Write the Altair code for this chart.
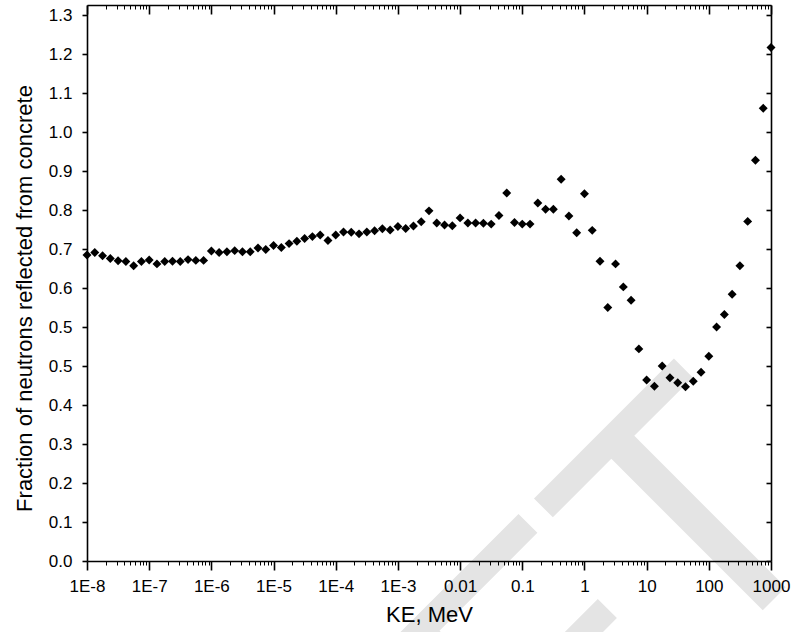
import json
import altair as alt
import pandas as pd

# Neutron kinetic energy grid (MeV), 8 points per decade from 1E-8 to 1000 MeV
ke_mev = [
    1.0000e-8, 1.3335e-8, 1.7783e-8, 2.3714e-8, 3.1623e-8, 4.2170e-8, 5.6234e-8, 7.4989e-8,
    1.0000e-7, 1.3335e-7, 1.7783e-7, 2.3714e-7, 3.1623e-7, 4.2170e-7, 5.6234e-7, 7.4989e-7,
    1.0000e-6, 1.3335e-6, 1.7783e-6, 2.3714e-6, 3.1623e-6, 4.2170e-6, 5.6234e-6, 7.4989e-6,
    1.0000e-5, 1.3335e-5, 1.7783e-5, 2.3714e-5, 3.1623e-5, 4.2170e-5, 5.6234e-5, 7.4989e-5,
    1.0000e-4, 1.3335e-4, 1.7783e-4, 2.3714e-4, 3.1623e-4, 4.2170e-4, 5.6234e-4, 7.4989e-4,
    1.0000e-3, 1.3335e-3, 1.7783e-3, 2.3714e-3, 3.1623e-3, 4.2170e-3, 5.6234e-3, 7.4989e-3,
    1.0000e-2, 1.3335e-2, 1.7783e-2, 2.3714e-2, 3.1623e-2, 4.2170e-2, 5.6234e-2, 7.4989e-2,
    1.0000e-1, 1.3335e-1, 1.7783e-1, 2.3714e-1, 3.1623e-1, 4.2170e-1, 5.6234e-1, 7.4989e-1,
    1.0000e0, 1.3335e0, 1.7783e0, 2.3714e0, 3.1623e0, 4.2170e0, 5.6234e0, 7.4989e0,
    1.0000e1, 1.3335e1, 1.7783e1, 2.3714e1, 3.1623e1, 4.2170e1, 5.6234e1, 7.4989e1,
    1.0000e2, 1.3335e2, 1.7783e2, 2.3714e2, 3.1623e2, 4.2170e2, 5.6234e2, 7.4989e2,
    1.0000e3,
]

# Reflected fraction, in units of the y-axis tick grid (one tick = 0.1)
reflected = [
    0.785, 0.791, 0.783, 0.776, 0.770, 0.768, 0.757, 0.768,
    0.772, 0.762, 0.768, 0.769, 0.768, 0.773, 0.771, 0.771,
    0.795, 0.791, 0.793, 0.796, 0.793, 0.793, 0.803, 0.799,
    0.809, 0.804, 0.814, 0.820, 0.827, 0.832, 0.836, 0.822,
    0.836, 0.844, 0.843, 0.839, 0.844, 0.847, 0.852, 0.849,
    0.858, 0.853, 0.859, 0.870, 0.898, 0.867, 0.862, 0.860,
    0.880, 0.867, 0.867, 0.866, 0.864, 0.886, 0.944, 0.868,
    0.864, 0.864, 0.918, 0.902, 0.902, 0.979, 0.885, 0.842,
    0.942, 0.848, 0.769, 0.650, 0.762, 0.703, 0.669, 0.544,
    0.464, 0.448, 0.500, 0.470, 0.457, 0.447, 0.461, 0.484,
    0.525, 0.600, 0.632, 0.684, 0.757, 0.871, 1.028, 1.161,
    1.317,
]

# Axis tick values and their printed labels
x_major = [1e-8, 1e-7, 1e-6, 1e-5, 1e-4, 1e-3, 1e-2, 1e-1, 1, 10, 100, 1000]
x_labels = ["1E-8", "1E-7", "1E-6", "1E-5", "1E-4", "1E-3", "0.01", "0.1", "1", "10", "100", "1000"]
x_minor = [m * d for d in x_major[:-1] for m in range(2, 10)]
y_ticks = [round(0.1 * k, 1) for k in range(15)]
y_labels = ["0.0", "0.1", "0.2", "0.3", "0.4", "0.5", "0.5", "0.6",
            "0.7", "0.8", "0.9", "1.0", "1.1", "1.2", "1.3"]

W, H = 684, 556
FONT = "Liberation Sans"

df = pd.DataFrame({"ke": ke_mev, "frac": reflected})

xscale = alt.Scale(type="log", domain=[1e-8, 1000], nice=False)
yscale = alt.Scale(domain=[0, 1.426], nice=False, zero=False)

x_label_expr = f"{json.dumps(x_labels)}[round(log(datum.value)/LN10) + 8]"
y_label_expr = f"{json.dumps(y_labels)}[round(datum.value*10)]"

common = dict(grid=False, domainColor="black", tickColor="black", zindex=1)

bottom_major = alt.Axis(orient="bottom", values=x_major, labelExpr=x_label_expr,
                        tickSize=9, tickWidth=1.6, domainWidth=1.6, labelPadding=8,
                        labelFont=FONT, labelFontSize=17, labelColor="black",
                        title="KE, MeV", titleFont=FONT, titleFontSize=22,
                        titleFontWeight="normal", titleColor="black", titlePadding=10,
                        labelFlush=False, labelOverlap=False, **common)
bottom_minor = alt.Axis(orient="bottom", values=x_minor, labels=False, domain=False,
                        tickSize=4, tickWidth=1, title=None, **common)
top_major = alt.Axis(orient="bottom", offset=-H, values=x_major, labels=False,
                     tickSize=9, tickWidth=1.6, domainWidth=1.6, title=None, **common)
top_minor = alt.Axis(orient="bottom", offset=-H, values=x_minor, labels=False,
                     domain=False, tickSize=4, tickWidth=1, title=None, **common)

left_axis = alt.Axis(orient="left", values=y_ticks, labelExpr=y_label_expr,
                     tickSize=5, tickWidth=1.6, domainWidth=1.6, labelPadding=10,
                     labelFont=FONT, labelFontSize=17, labelColor="black",
                     title="Fraction of neutrons reflected from concrete",
                     titleFont=FONT, titleFontSize=22, titleFontWeight="normal",
                     titleColor="black", titlePadding=12, titleY=293,
                     labelOverlap=False, **common)
right_axis = alt.Axis(orient="left", offset=-W, values=y_ticks, labels=False,
                      tickSize=5, tickWidth=1.6, domainWidth=1.6, title=None, **common)

# Faint diagonal watermark behind the data
watermark = alt.Chart(pd.DataFrame({"t": ["DRAFT"]})).mark_text(
    angle=315, fontSize=350, font=FONT, color="#e4e4e4",
    align="left", baseline="alphabetic",
).encode(text="t:N", x=alt.value(-62), y=alt.value(1343))

base = alt.Chart(df)

points = base.mark_point(shape="diamond", filled=True, size=80, color="black",
                         opacity=1).encode(
    x=alt.X("ke:Q", scale=xscale, axis=bottom_major),
    y=alt.Y("frac:Q", scale=yscale, axis=left_axis),
)

frame_right = base.mark_point(opacity=0).encode(
    x=alt.X("ke:Q", scale=xscale, axis=bottom_minor),
    y=alt.Y("frac:Q", scale=yscale, axis=right_axis),
)
frame_top = base.mark_point(opacity=0).encode(
    x=alt.X("ke:Q", scale=xscale, axis=top_major),
)
frame_top_minor = base.mark_point(opacity=0).encode(
    x=alt.X("ke:Q", scale=xscale, axis=top_minor),
)

chart = alt.layer(
    watermark, frame_right, frame_top, frame_top_minor, points
).resolve_axis(
    x="independent", y="independent"
).properties(
    width=W, height=H,
    autosize=alt.AutoSizeParams(type="none"),
    padding={"left": 87, "top": 5, "right": 20, "bottom": 71},
    background="white",
).configure_view(stroke=None)

chart.save("out.html", embed_options={"renderer": "svg", "actions": False})
